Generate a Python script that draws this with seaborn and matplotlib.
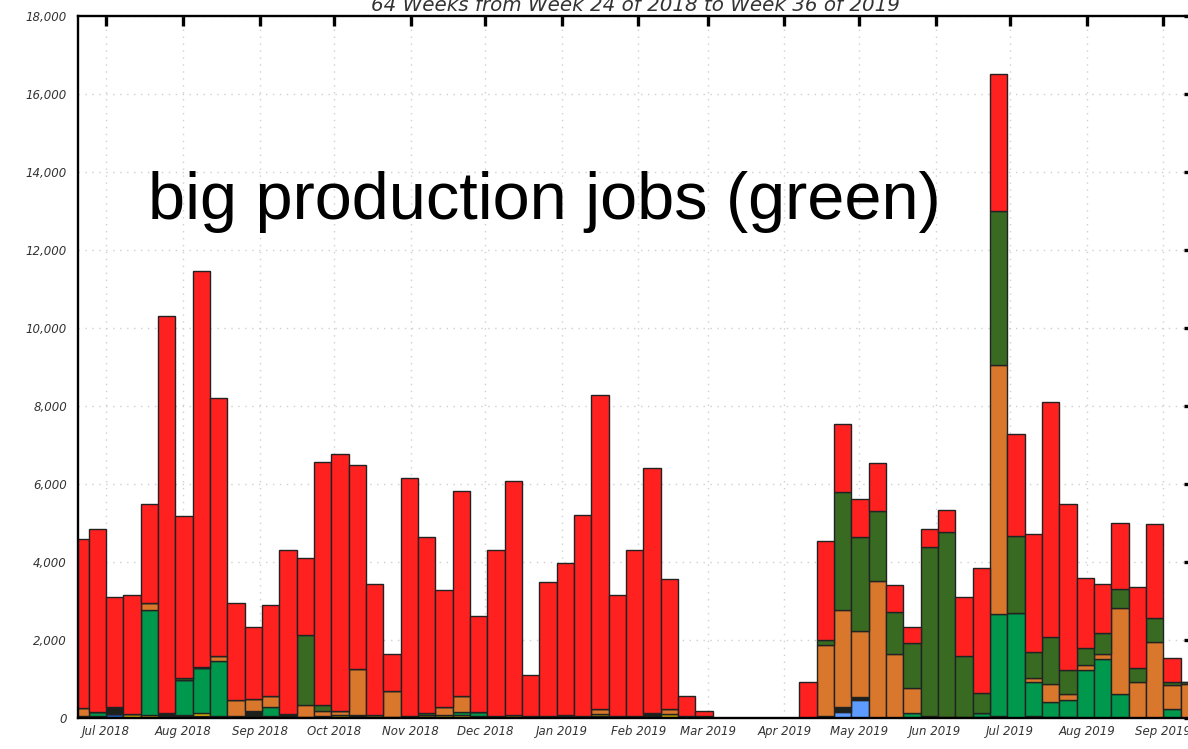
import pandas as pd
import matplotlib
matplotlib.use('Agg')
import matplotlib.pyplot as plt
import matplotlib.dates as mdates
import matplotlib.ticker as mticker
import seaborn as sns

# weekly job counts, 65 weeks starting Sunday 17 Jun 2018
first_week = '2018-06-17'
n_weeks = 65

dark_blue = [0, 0, 100, 0, 0, 40, 40, 40, 0, 0,
             0, 0, 0, 0, 0, 0, 20, 0, 0, 0,
             0, 0, 0, 0, 0, 0, 0, 0, 40, 0,
             0, 0, 0, 0, 0, 0, 0, 0, 0, 0,
             0, 0, 0, 0, 0, 0, 0, 0, 0, 0,
             0, 0, 0, 50, 0, 0, 0, 0, 0, 0,
             0, 0, 0, 0, 0]
light_blue = [0] * 44 + [160, 460] + [0] * 19
black = [50, 50, 150, 30, 20, 80, 40, 10, 40, 10,
         180, 0, 100, 20, 50, 20, 60, 20, 20, 60,
         20, 20, 20, 20, 60, 20, 40, 50, 40, 50,
         40, 50, 20, 140, 30, 40, 40, 0, 0, 0,
         0, 0, 0, 50, 130, 85, 0, 0, 0, 40,
         20, 30, 30, 0, 0, 40, 30, 20, 0, 0,
         0, 0, 0, 0, 0]
yellow = [0, 0, 0, 60, 60, 0, 0, 70, 0, 40,
          0, 50, 0, 0, 0, 60, 0, 50, 0, 0,
          60, 60, 60, 40, 0, 60, 0, 0, 0, 0,
          60, 0, 40, 0, 60, 0, 0, 0, 0, 0,
          0, 0, 0, 0, 0, 0, 0, 0, 0, 0,
          0, 0, 0, 0, 0, 0, 0, 0, 0, 0,
          0, 0, 0, 0, 0]
green = [0, 110, 0, 0, 2690, 0, 900, 1150, 1430, 0,
         0, 240, 0, 0, 0, 0, 0, 0, 0, 0,
         0, 0, 80, 100, 0, 0, 0, 0, 0, 0,
         0, 0, 0, 0, 0, 0, 0, 0, 0, 0,
         0, 0, 0, 0, 0, 0, 0, 0, 130, 0,
         0, 0, 100, 2610, 2700, 890, 390, 440, 1230, 1510,
         610, 0, 0, 230, 0]
orange = [200, 0, 0, 0, 185, 0, 0, 0, 120, 400,
          300, 275, 0, 310, 135, 100, 1170, 0, 670, 0,
          0, 210, 410, 0, 0, 0, 0, 0, 0, 0,
          130, 0, 0, 0, 140, 0, 0, 0, 0, 0,
          0, 0, 0, 1820, 2480, 1695, 3510, 1630, 630, 0,
          0, 0, 0, 6390, 0, 90, 440, 150, 130, 120,
          2200, 930, 1960, 620, 870]
dark_green = [0, 0, 40, 0, 0, 0, 40, 30, 0, 0,
              0, 0, 0, 1800, 150, 0, 0, 0, 0, 0,
              40, 0, 0, 0, 0, 0, 0, 0, 0, 0,
              0, 0, 0, 0, 0, 0, 0, 0, 0, 0,
              0, 0, 0, 130, 3025, 2400, 1790, 1100, 1155, 4340,
              4740, 1560, 520, 3960, 1970, 660, 1225, 620, 440, 540,
              490, 340, 600, 80, 50]
red = [4350, 4690, 2820, 3060, 2545, 10180, 4155, 10155, 6625, 2490,
       1845, 2335, 4210, 1970, 6240, 6590, 5235, 3370, 950, 6100,
       4520, 2990, 5260, 2465, 4255, 5990, 1065, 3445, 3905, 5165,
       8060, 3105, 4255, 6260, 3335, 525, 150, 0, 0, 0,
       0, 0, 935, 2550, 1750, 980, 1230, 670, 420, 470,
       585, 1520, 3190, 3495, 2600, 3040, 6015, 4245, 1800, 1260,
       1700, 2080, 2420, 600, 0]

# stacking order, top of the bar first
series = {
    'red': red,
    'dark_green': dark_green,
    'orange': orange,
    'green': green,
    'yellow': yellow,
    'black': black,
    'light_blue': light_blue,
    'dark_blue': dark_blue,
}
palette = {
    'red': '#ff2020',
    'dark_green': '#386b21',
    'orange': '#d9782c',
    'green': '#00984c',
    'yellow': '#e0bc00',
    'black': '#1c211b',
    'light_blue': '#5e9bff',
    'dark_blue': '#1f5cb8',
}

title = '64 Weeks from Week 24 of 2018 to Week 36 of 2019'
note = 'big production jobs (green)'

weeks = pd.date_range(first_week, periods=n_weeks, freq='7D')
start = mdates.date2num(weeks[0])
centers = mdates.date2num(weeks) + 3.5

rows = []
for name, vals in series.items():
    for c, v in zip(centers, vals):
        rows.append({'day': c, 'jobs': v, 'kind': name})
df = pd.DataFrame(rows)

sns.set_theme(style='white')
plt.rcParams['font.family'] = ['DejaVu Sans']
plt.rcParams['font.style'] = 'italic'

fig = plt.figure(figsize=(11.88, 7.49), dpi=100)
ax = fig.add_axes([78 / 1188, 31 / 749, 1116 / 1188, 702 / 749])

sns.histplot(data=df, x='day', weights='jobs', hue='kind', hue_order=list(series),
             palette=palette, multiple='stack', binwidth=7,
             binrange=(start, start + 7 * n_weeks), element='bars',
             fill=True, alpha=1, edgecolor='#222222', linewidth=1.0,
             legend=False, ax=ax)

x_left = pd.Timestamp('2018-06-19 16:30')
ax.set_xlim(mdates.date2num(x_left), mdates.date2num(x_left + pd.Timedelta(days=450.7)))
ax.set_ylim(0, 18000)
ax.xaxis.set_major_locator(mdates.MonthLocator())
ax.xaxis.set_major_formatter(mdates.DateFormatter('%b %Y'))
ax.yaxis.set_major_locator(mticker.MultipleLocator(2000))
ax.yaxis.set_major_formatter(mticker.StrMethodFormatter('{x:,.0f}'))
ax.set_xlabel('')
ax.set_ylabel('')

ax.set_axisbelow(True)
ax.grid(True, which='major', linestyle=(0, (1, 4)), color='#cfcfcf', linewidth=1.0)
for s in ax.spines.values():
    s.set_visible(True)
    s.set_color('black')
    s.set_linewidth(1.7)
ax.tick_params(direction='in', length=7, width=2.4, top=True, right=True,
               labelsize=8.5, labelcolor='#333333', color='black')
ax.tick_params(axis='x', pad=5)
ax.tick_params(axis='y', pad=8)

fig.text(635.5 / 1188, 738 / 749, title, ha='center', va='baseline',
         fontsize=14.3, style='italic', color='#333333')
fig.text(148 / 1188, 530 / 749, note, ha='left', va='baseline', fontsize=48,
         family=['Liberation Sans', 'DejaVu Sans'], style='normal', color='black')

fig.savefig('out.png', dpi=100)
